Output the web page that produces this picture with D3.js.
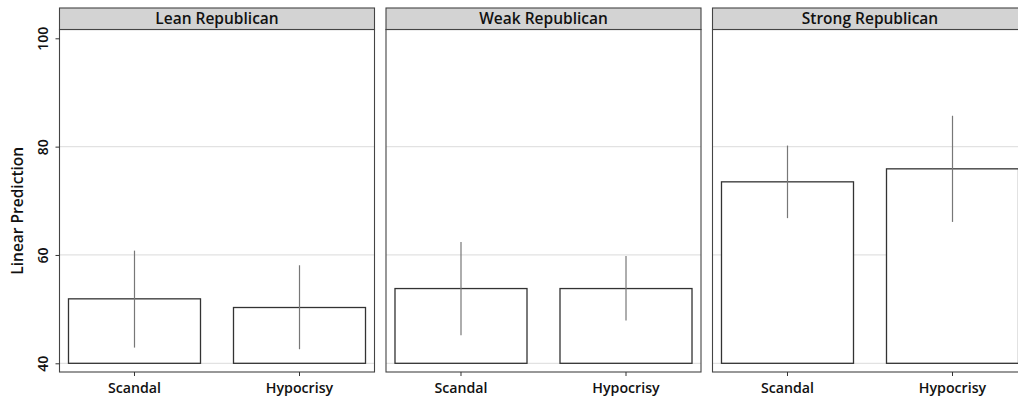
<!DOCTYPE html>
<html>
<head>
<meta charset="utf-8">
<script src="https://cdn.jsdelivr.net/npm/d3@7"></script>
<style>
  html, body { margin: 0; padding: 0; background: #fff; }
  svg { display: block; }
  text { font-family: "Open Sans", "Noto Sans", sans-serif; fill: #111; }
</style>
</head>
<body>
<svg id="chart" width="1018" height="405"></svg>
<script>
// Predicted values with 95% intervals, by partisan strength and treatment
const panels = ["Lean Republican", "Weak Republican", "Strong Republican"];
const conditions = ["Scandal", "Hypocrisy"];
const predicted = [
  [51.9, 50.3],
  [53.8, 53.8],
  [73.5, 75.9]
];
const ciLow = [
  [42.9, 42.6],
  [45.2, 47.9],
  [66.8, 66.1]
];
const ciHigh = [
  [60.8, 58.1],
  [62.4, 59.8],
  [80.2, 85.7]
];
const yTicks = [40, 60, 80, 100];
const gridValues = [40, 60, 80];

const svg = d3.select("#chart");

const panelLeft = 59.5, panelW = 315, panelGap = 11.5;
const stripTop = 8, stripBottom = 29.5, plotBottom = 372;

const y = d3.scaleLinear().domain([40, 100]).range([363.3, 38.3]);

const facet = d3.scaleBand()
  .domain(panels)
  .range([panelLeft, panelLeft + 3 * panelW + 2 * panelGap])
  .paddingInner(panelGap / (panelW + panelGap));

const x = d3.scaleBand()
  .domain(conditions)
  .range([0, panelW])
  .paddingInner(0.2)
  .paddingOuter(0.0545);

panels.forEach((name, i) => {
  const g = svg.append("g").attr("transform", `translate(${facet(name)},0)`);

  // grid
  g.selectAll("line.grid").data(gridValues).join("line")
    .attr("class", "grid")
    .attr("x1", 0).attr("x2", panelW)
    .attr("y1", d => y(d)).attr("y2", d => y(d))
    .attr("stroke", "#e2e2e2").attr("stroke-width", 1.2);

  // bars
  g.selectAll("rect.bar").data(conditions).join("rect")
    .attr("class", "bar")
    .attr("x", d => x(d))
    .attr("width", x.bandwidth())
    .attr("y", (d, j) => y(predicted[i][j]))
    .attr("height", (d, j) => y(40) - y(predicted[i][j]))
    .attr("fill", "#fff")
    .attr("stroke", "#333").attr("stroke-width", 1.3);

  // confidence intervals
  g.selectAll("line.ci").data(conditions).join("line")
    .attr("class", "ci")
    .attr("x1", d => x(d) + x.bandwidth() / 2)
    .attr("x2", d => x(d) + x.bandwidth() / 2)
    .attr("y1", (d, j) => y(ciLow[i][j]))
    .attr("y2", (d, j) => y(ciHigh[i][j]))
    .attr("stroke", "#777").attr("stroke-width", 1.2);

  // panel frame
  g.append("rect")
    .attr("x", 0).attr("y", stripBottom)
    .attr("width", panelW).attr("height", plotBottom - stripBottom)
    .attr("fill", "none").attr("stroke", "#444").attr("stroke-width", 1.1);

  // strip
  g.append("rect")
    .attr("x", 0).attr("y", stripTop)
    .attr("width", panelW).attr("height", stripBottom - stripTop)
    .attr("fill", "#d3d3d3").attr("stroke", "#444").attr("stroke-width", 1.1);
  g.append("text")
    .attr("x", panelW / 2).attr("y", (stripTop + stripBottom) / 2)
    .attr("dy", "0.35em")
    .attr("text-anchor", "middle")
    .attr("font-size", 15.5).attr("font-weight", 600)
    .text(name);

  // x axis
  const xAxis = g.append("g")
    .attr("transform", `translate(0,${plotBottom})`)
    .call(d3.axisBottom(x).tickSize(4).tickPadding(7));
  xAxis.select(".domain").remove();
  xAxis.selectAll(".tick line").attr("stroke", "#333");
  xAxis.selectAll(".tick text")
    .attr("font-size", 14.2).attr("font-weight", 600)
    .attr("font-family", "'Open Sans', 'Noto Sans', sans-serif")
    .attr("fill", "#111");
});

// y axis on the first panel
const yAxis = svg.append("g")
  .attr("transform", `translate(${panelLeft},0)`)
  .call(d3.axisLeft(y).tickValues(yTicks).tickSize(4).tickPadding(6));
yAxis.select(".domain").remove();
yAxis.selectAll(".tick line").attr("stroke", "#333");
yAxis.selectAll(".tick text")
  .attr("font-size", 14).attr("font-weight", 600)
  .attr("font-family", "'Open Sans', 'Noto Sans', sans-serif")
  .attr("fill", "#111")
  .attr("text-anchor", "middle")
  .attr("x", null).attr("dy", null)
  .attr("transform", "translate(-17,0) rotate(-90)")
  .attr("y", 0)
  .attr("dominant-baseline", "central");

svg.append("text")
  .attr("transform", `translate(17,${(stripBottom + plotBottom) / 2 + 10}) rotate(-90)`)
  .attr("text-anchor", "middle")
  .attr("dominant-baseline", "central")
  .attr("font-size", 15.5).attr("font-weight", 600)
  .text("Linear Prediction");
</script>
</body>
</html>
